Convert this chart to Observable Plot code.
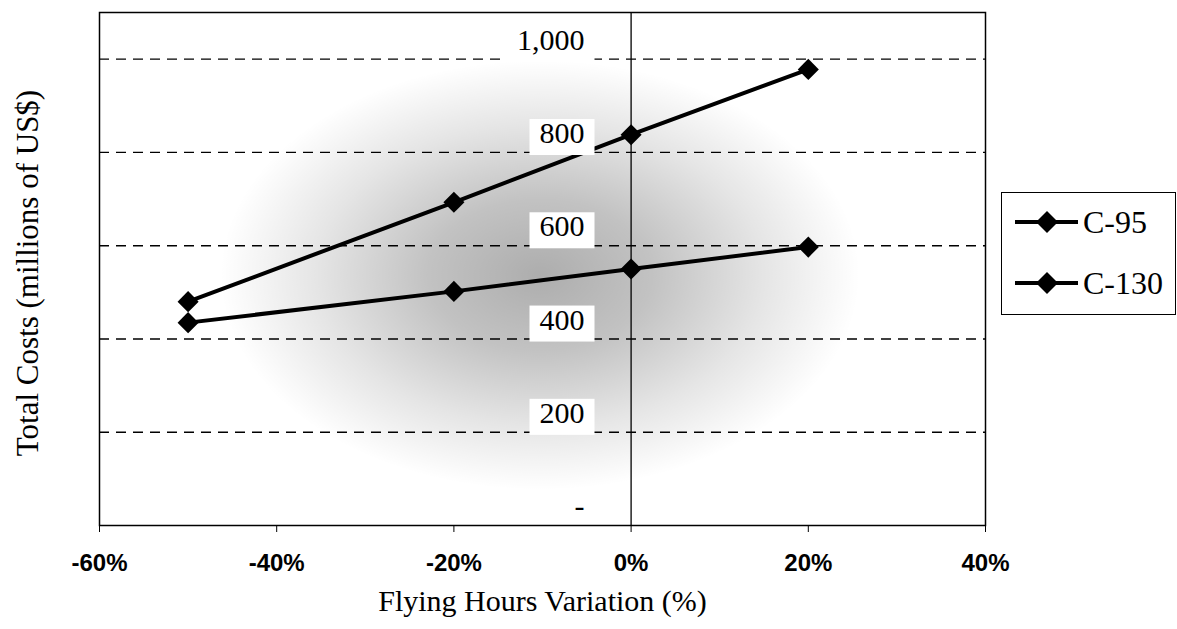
<!DOCTYPE html>
<html><head><meta charset="utf-8">
<script src="https://cdn.jsdelivr.net/npm/d3@7"></script>
<script src="https://cdn.jsdelivr.net/npm/@observablehq/plot@0.6"></script>
<style>
html,body{margin:0;padding:0;background:#fff;}
#wrap{position:relative;width:1177px;height:629px;overflow:hidden;}
#haze{position:absolute;left:220px;top:60px;width:640px;height:430px;
 background:radial-gradient(ellipse closest-side at 50% 50%, rgba(0,0,0,0.32) 0%, rgba(0,0,0,0.24) 35%, rgba(0,0,0,0.10) 70%, rgba(0,0,0,0) 100%);}
#chart{position:absolute;left:0;top:0;}
#legend{position:absolute;left:1001px;top:192px;width:173px;height:121px;border:1.5px solid #000;background:#fff;}
</style></head><body>
<div id="wrap"><div id="haze"></div><div id="chart"></div><div id="legend"></div></div>
<script>
// ---- data ----
const variation = [-50, -20, 0, 20];
const c95 = [480, 693, 838, 978];
const c130 = [435, 502, 550, 597];
const seriesNames = ["C-95", "C-130"];
const xTicks = [-60, -40, -20, 0, 20, 40];
const yTicks = [0, 200, 400, 600, 800, 1000];
const xTitle = "Flying Hours Variation (%)";
const yTitle = "Total Costs (millions of US$)";

const rows = [];
[c95, c130].forEach((vals, si) => vals.forEach((v, i) => rows.push({series: seriesNames[si], variation: variation[i], cost: v})));

const serif = "'Liberation Serif','Times New Roman',serif";
const sans = "'Liberation Sans',Arial,sans-serif";
const yFmt = d => d === 0 ? "-" : d3.format(",")(d);

const plot = Plot.plot({
  width: 1177, height: 629,
  marginLeft: 99, marginRight: 192, marginTop: 12, marginBottom: 104,
  style: {background: "transparent", overflow: "visible", fontFamily: sans},
  x: {domain: [-60, 40]},
  y: {domain: [0, 1100], axis: null},
  marks: [
    Plot.ruleY(yTicks.filter(d => d > 0), {stroke: "#000", strokeWidth: 1.4, strokeDasharray: "10,7"}),
    Plot.ruleX([0], {stroke: "#000", strokeWidth: 1.3}),
    Plot.frame({stroke: "#000", strokeWidth: 1.5}),
    Plot.axisX(xTicks, {anchor: "bottom", tickSize: 7, tickPadding: 21, tickFormat: d => d + "%", fontSize: 24, fontWeight: "bold", fontFamily: sans, label: null}),
    Plot.line(rows, {x: "variation", y: "cost", z: "series", stroke: "#000", strokeWidth: 4}),
    Plot.dot(rows, {x: "variation", y: "cost", symbol: "diamond2", r: 9.5, fill: "#000", stroke: "none"}),
    Plot.text(yTicks, {y: d => d, text: yFmt, frameAnchor: "left", dx: 485, dy: -19, textAnchor: "end", fontSize: 30, fontFamily: serif, fill: "#000"}),
    Plot.text([xTitle], {text: d => d, frameAnchor: "bottom", dy: 85, textAnchor: "middle", fontSize: 30, fontFamily: serif, fill: "#000"}),
    Plot.text([yTitle], {text: d => d, frameAnchor: "left", dx: -71, dy: 4, textAnchor: "middle", rotate: -90, fontSize: 31, fontFamily: serif, fill: "#000"})
  ]
});
document.getElementById("chart").append(plot);

// white boxes behind the y labels (as in the reference)
const labG = plot.querySelector('g[aria-label="text"]');
if (labG) {
  labG.querySelectorAll("text").forEach(t => {
    if (t.textContent === "-") return;
    const b = t.getBBox();
    const r = document.createElementNS("http://www.w3.org/2000/svg", "rect");
    r.setAttribute("x", b.x - 10);
    r.setAttribute("y", b.y + 3);
    r.setAttribute("width", b.width + 20);
    r.setAttribute("height", b.height + 3);
    r.setAttribute("fill", "#fff");
    const tr = t.getAttribute("transform");
    if (tr) r.setAttribute("transform", tr);
    t.parentNode.insertBefore(r, t);
  });
}

// legend
const ns = "http://www.w3.org/2000/svg";
const lsvg = document.createElementNS(ns, "svg");
lsvg.setAttribute("width", 173); lsvg.setAttribute("height", 121);
seriesNames.forEach((name, i) => {
  const cy = 29 + i * 61;
  const ln = document.createElementNS(ns, "line");
  ln.setAttribute("x1", 13); ln.setAttribute("x2", 76); ln.setAttribute("y1", cy); ln.setAttribute("y2", cy);
  ln.setAttribute("stroke", "#000"); ln.setAttribute("stroke-width", 4);
  lsvg.append(ln);
  const p = document.createElementNS(ns, "path");
  p.setAttribute("d", `M45,${cy-11}L56,${cy}L45,${cy+11}L34,${cy}Z`);
  p.setAttribute("fill", "#000");
  lsvg.append(p);
  const tx = document.createElementNS(ns, "text");
  tx.setAttribute("x", 81); tx.setAttribute("y", cy); tx.setAttribute("dy", "0.35em");
  tx.setAttribute("font-size", 32); tx.setAttribute("font-family", serif);
  tx.textContent = name;
  lsvg.append(tx);
});
document.getElementById("legend").append(lsvg);
</script>
</body></html>
